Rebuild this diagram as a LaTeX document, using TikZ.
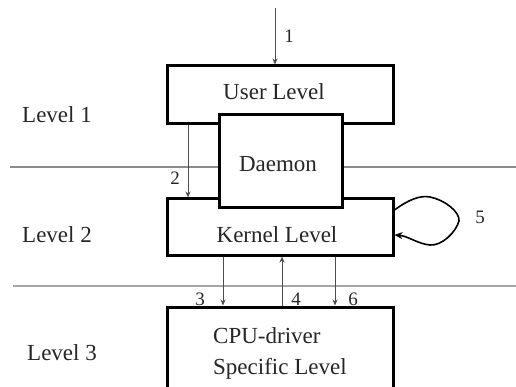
\documentclass[tikz,border=0pt]{standalone}
\usepackage{fontspec}
\setmainfont{Liberation Serif}
\usetikzlibrary{arrows.meta,calc}
\begin{document}
\begin{tikzpicture}[x=1pt,y=-1pt,
  box/.style={draw=black, line width=3pt, fill=white, minimum width=226pt, inner sep=0pt},
  txt/.style={font=\fontsize{23}{28}\selectfont, text=black!85, inner sep=0pt, anchor=base},
  num/.style={font=\fontsize{19}{22}\selectfont, text=black!85, inner sep=0pt, anchor=base},
  sepline/.style={draw=black!45, line width=1.5pt},
  flow/.style={draw=black!70, line width=1pt, -{Stealth[length=6pt,width=5pt]}}]
  \useasboundingbox (0,0) rectangle (516,387);
  \clip (0,0) rectangle (516,387);

  % level separators
  \coordinate (s1a) at (10,167);  \coordinate (s1b) at (516,167);
  \coordinate (s2a) at (13,286);  \coordinate (s2b) at (516,286);
  \draw[sepline] (s1a) -- (s1b);
  \draw[sepline, line width=2.5pt, draw=black!35] (s2a) -- (s2b);

  % level boxes
  \node[box, minimum height=58pt] (user) at (280,95) {};
  \node[box, minimum height=56pt] (kernel) at (280,227) {};
  \node[box, minimum height=85pt] (cpu) at (280,349.5) {};
  \node[box, minimum width=123pt, minimum height=93pt] (daemon) at (280.5,161.5) {};

  % box texts
  \node[txt] (tuser) at (274,100) {User Level};
  \node[txt] (tdaemon) at (278,172) {Daemon};
  \node[txt] (tkernel) at (277,242) {Kernel Level};
  \node[txt, anchor=base west] (tcpu1) at (213,343) {CPU-driver};
  \node[txt, anchor=base west] (tcpu2) at (213,374) {Specific Level};

  % level names
  \node[txt, anchor=base west] (l1) at (22,123) {Level 1};
  \node[txt, anchor=base west] (l2) at (22,242) {Level 2};
  \node[txt, anchor=base west] (l3) at (27,360) {Level 3};

  % flow arrows
  \coordinate (in1) at (275,8);
  \coordinate (c2) at (188,0);
  \coordinate (c3) at (223,0);
  \coordinate (c4) at (282,0);
  \coordinate (c6) at (335,0);
  \draw[flow] (in1) -- (in1 |- user.north);
  \draw[flow] (user.south -| c2) -- (kernel.north -| c2);
  \draw[flow] (kernel.south -| c3) -- (cpu.north -| c3);
  \draw[flow] (cpu.north -| c4) -- (kernel.south -| c4);
  \draw[flow] (kernel.south -| c6) -- (cpu.north -| c6);

  % self loop on the kernel level
  \draw[line width=1.6pt, -{Stealth[length=8pt,width=7pt]}]
    ($(kernel.east)+(0,-17)$) .. controls (408,200) and (420,195) .. (430,197)
    .. controls (445,200) and (460,212) .. (459,221)
    .. controls (456,232) and (442,246) .. (430,245)
    .. controls (418,244) and (408,236) .. ($(kernel.east)+(0,8)$);

  % arrow labels
  \node[num] (n1) at (289,43) {1};
  \node[num] (n2) at (175,185) {2};
  \node[num] (n3) at (200,305) {3};
  \node[num] (n4) at (296,305) {4};
  \node[num] (n5) at (480,223) {5};
  \node[num] (n6) at (353,305) {6};
\end{tikzpicture}
\end{document}
